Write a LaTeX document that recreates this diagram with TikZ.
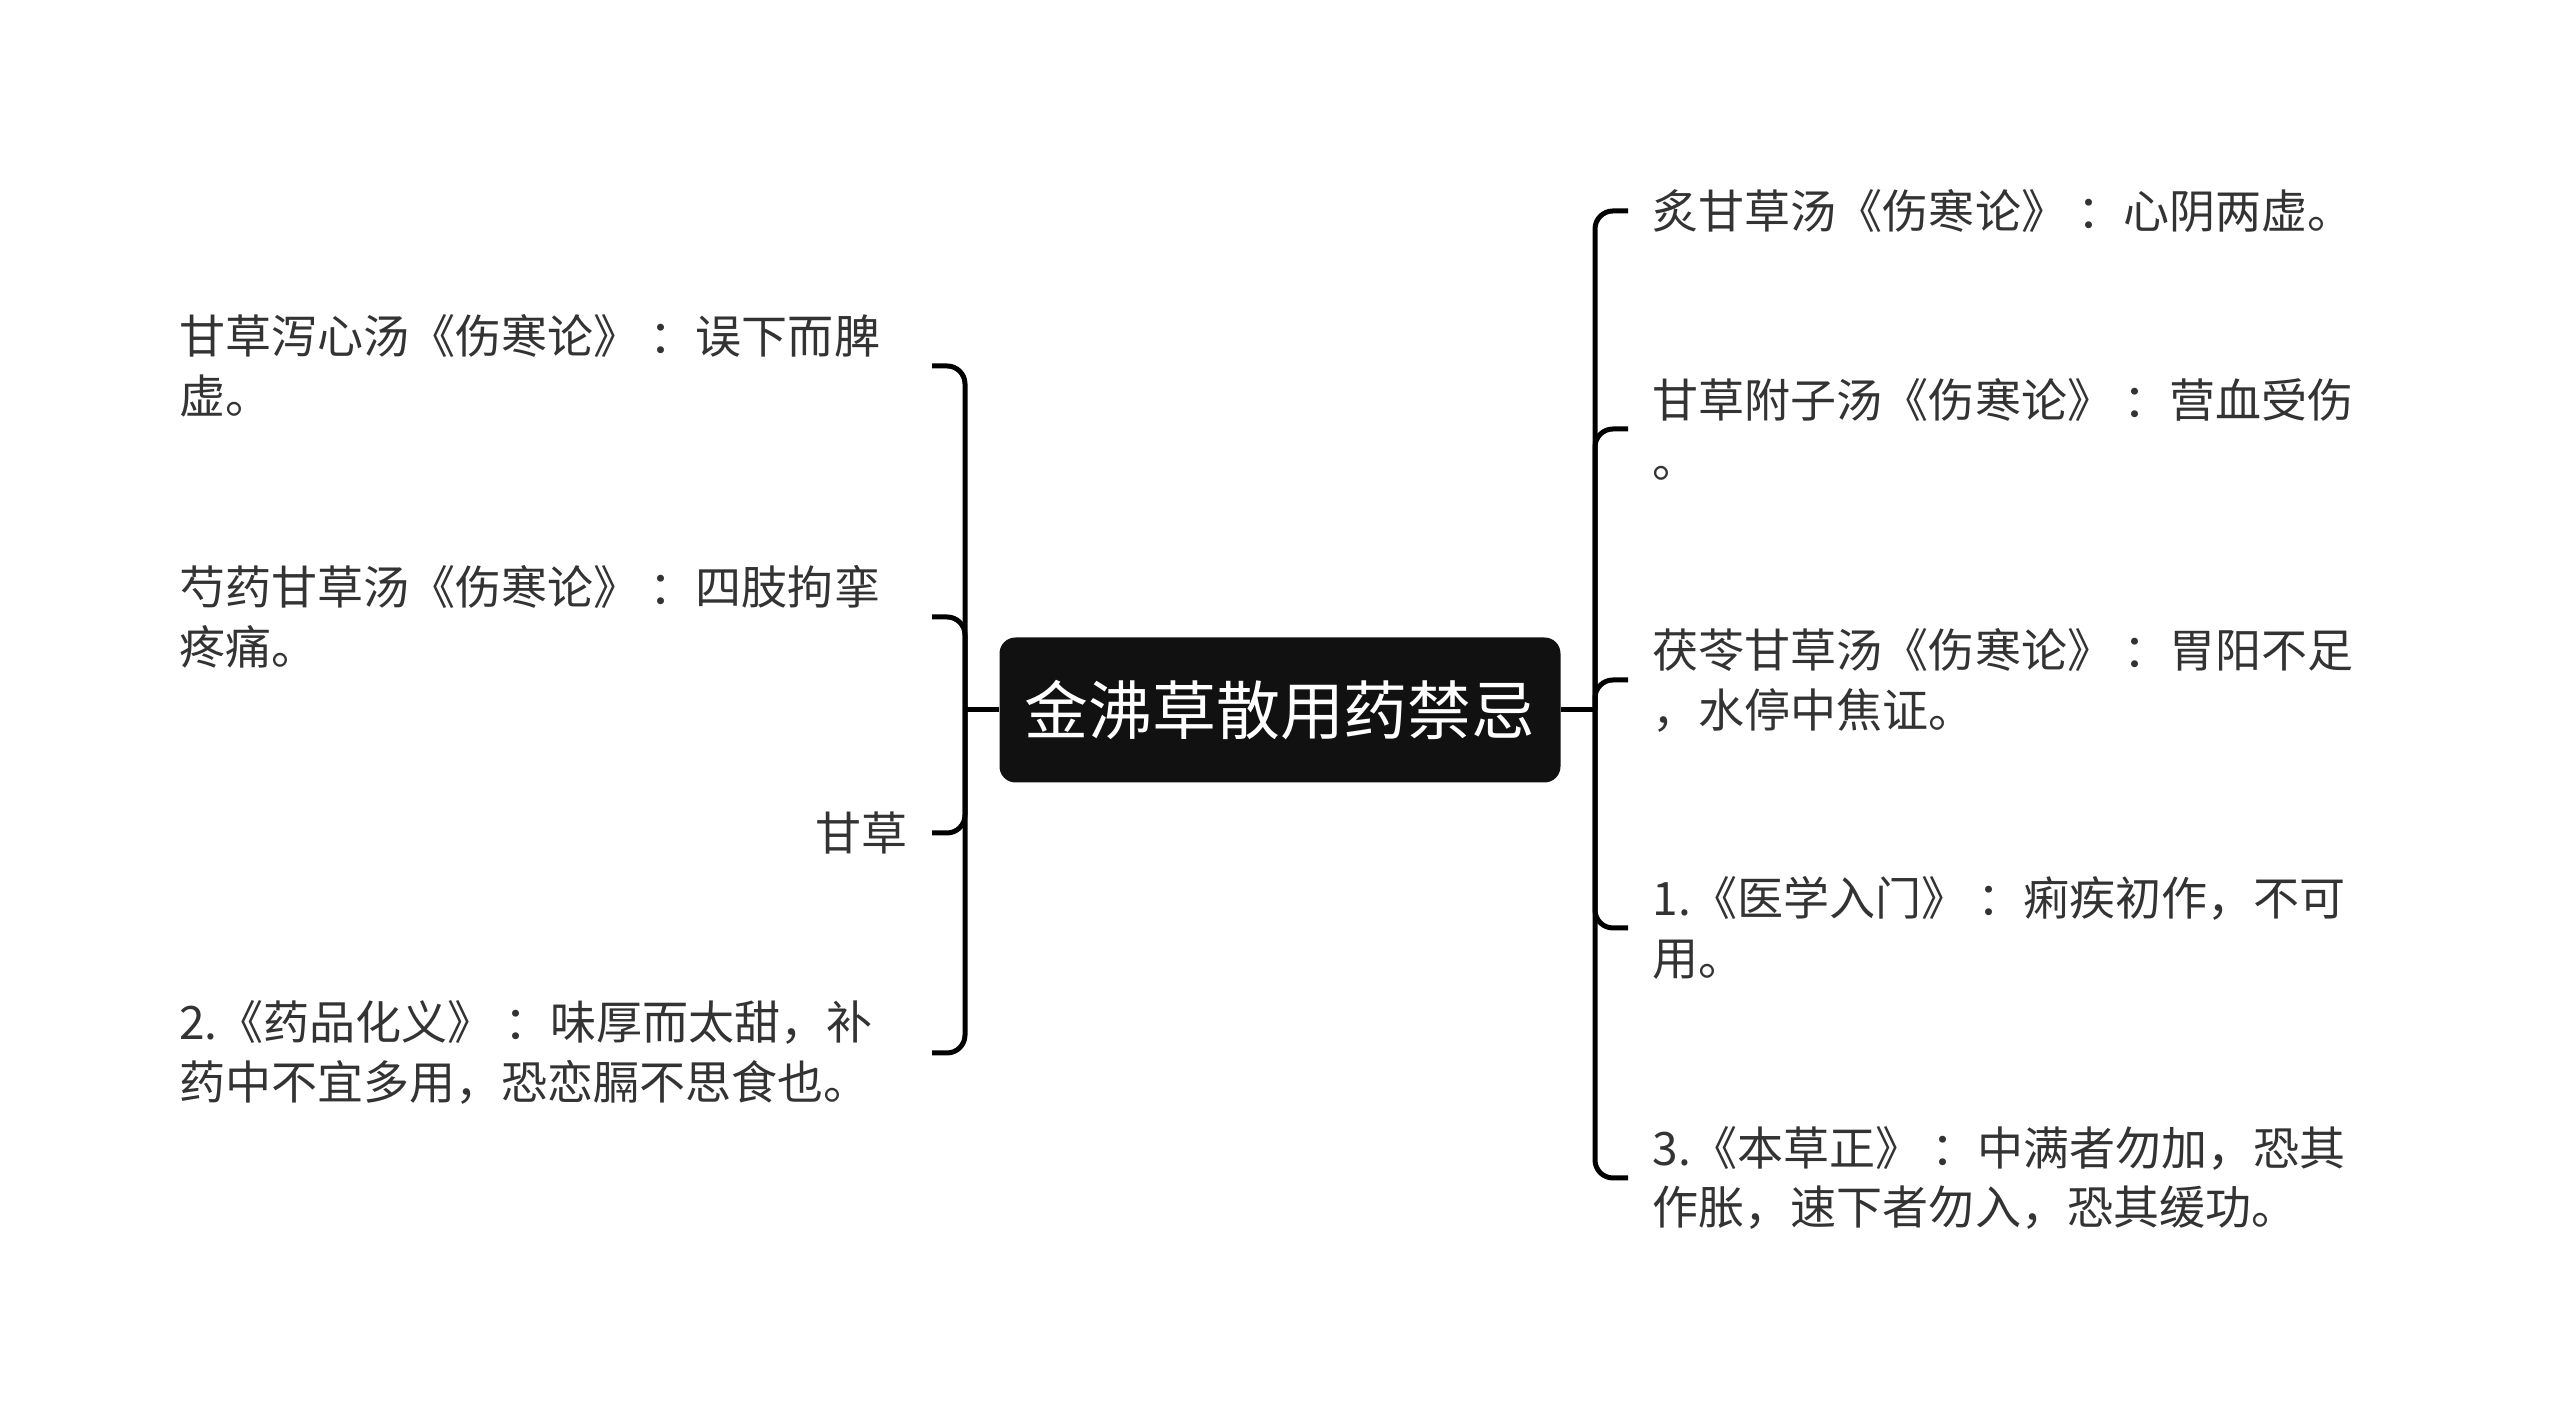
\documentclass[tikz,border=0pt]{standalone}
\usepackage{fontspec}
\setmainfont{Noto Sans CJK SC}
\usepackage{xcolor}
\definecolor{mmblack}{RGB}{17,17,17}
\definecolor{mmtext}{RGB}{51,51,51}
\usepackage{tikz}
% centred full-width colon
\newcommand{\mmcolon}{\kern.22em：}

\begin{document}
\begin{tikzpicture}[
  linkline/.style={black, line width=0.05cm, rounded corners=0.18cm},
  rootbox/.style={fill=mmblack, text=white, rounded corners=0.16cm,
      minimum width=5.61cm, minimum height=1.45cm, inner sep=0pt,
      font=\fontsize{18.2pt}{22pt}\selectfont},
  leftleaf/.style={anchor=east, inner sep=0pt, text width=7.28cm, align=left,
      text=mmtext, font=\fontsize{13.1pt}{17.07pt}\selectfont},
  rightleaf/.style={anchor=west, inner sep=0pt, text width=7.6cm, align=left,
      text=mmtext, font=\fontsize{13.1pt}{17.07pt}\selectfont}]

\useasboundingbox (0,0) rectangle (25.6,14.21);

% --- Root (centre) ---
\node[rootbox] (root) at (12.80,7.11) {金沸草散用药禁忌};

% --- Left branches ---
\coordinate (lhub) at (9.65,7.11);
\node[leftleaf] (lk1) at (9.08,10.55) {甘草泻心汤《伤寒论》\mmcolon 误下而脾\\虚。};
\node[leftleaf] (lk2) at (9.08,8.04) {芍药甘草汤《伤寒论》\mmcolon 四肢拘挛\\疼痛。};
\node[leftleaf, align=right] (lk3) at (9.08,5.88) {甘草};
\node[leftleaf] (lk4) at (9.08,3.68) {2.《药品化义》\mmcolon 味厚而太甜，补\\药中不宜多用，恐恋膈不思食也。};

\draw[linkline] (root.west) -- (lhub);
\draw[linkline] (lhub) |- ([xshift=0.24cm]lk1.east);
\draw[linkline] (lhub) |- ([xshift=0.24cm]lk2.east);
\draw[linkline] (lhub) |- ([xshift=0.24cm]lk3.east);
\draw[linkline] (lhub) |- ([xshift=0.24cm]lk4.east);

% --- Right branches ---
\coordinate (rhub) at (15.95,7.11);
\node[rightleaf] (rk1) at (16.52,12.10) {炙甘草汤《伤寒论》\mmcolon 心阴两虚。};
\node[rightleaf] (rk2) at (16.52,9.92) {甘草附子汤《伤寒论》\mmcolon 营血受伤\\。};
\node[rightleaf] (rk3) at (16.52,7.41) {茯苓甘草汤《伤寒论》\mmcolon 胃阳不足\\，水停中焦证。};
\node[rightleaf] (rk4) at (16.52,4.93) {1.《医学入门》\mmcolon 痢疾初作，不可\\用。};
\node[rightleaf] (rk5) at (16.52,2.43) {3.《本草正》\mmcolon 中满者勿加，恐其\\作胀，速下者勿入，恐其缓功。};

\draw[linkline] (root.east) -- (rhub);
\draw[linkline] (rhub) |- ([xshift=-0.24cm]rk1.west);
\draw[linkline] (rhub) |- ([xshift=-0.24cm]rk2.west);
\draw[linkline] (rhub) |- ([xshift=-0.24cm]rk3.west);
\draw[linkline] (rhub) |- ([xshift=-0.24cm]rk4.west);
\draw[linkline] (rhub) |- ([xshift=-0.24cm]rk5.west);

\end{tikzpicture}
\end{document}
